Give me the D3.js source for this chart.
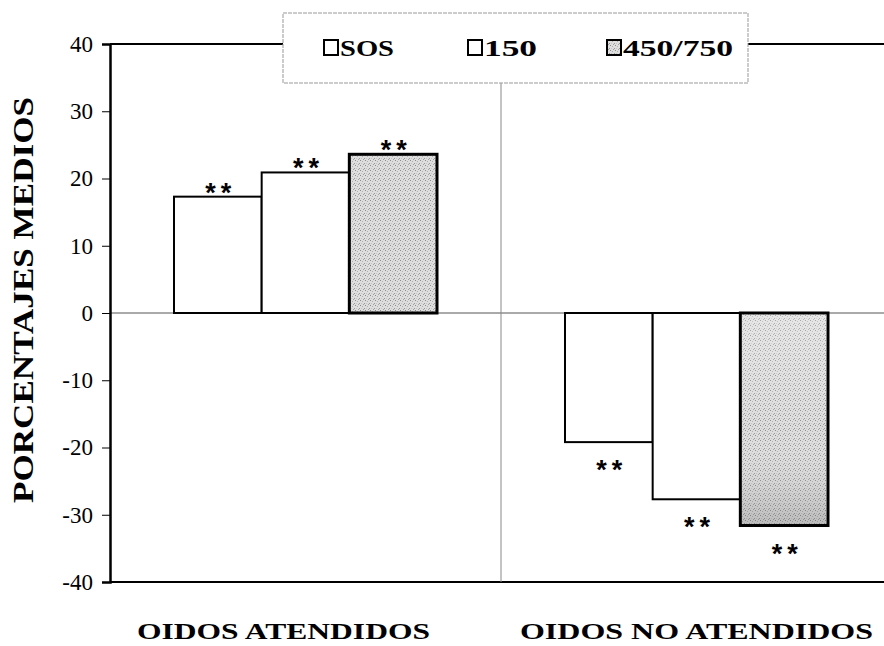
<!DOCTYPE html>
<html><head><meta charset="utf-8">
<script src="https://cdn.jsdelivr.net/npm/d3@7"></script>
<style>body{margin:0;background:#fff} svg text{font-family:"Liberation Serif","Times New Roman",Tinos,"Nimbus Roman","FreeSerif",serif}</style>
</head><body>
<script>
const categories = ["OIDOS ATENDIDOS", "OIDOS NO ATENDIDOS"];
const seriesNames = ["SOS", "150", "450/750"];
const sosValues = [17.3, -19.2];
const v150Values = [20.9, -27.7];
const v450Values = [23.6, -31.6];
const yTicks = [-40, -30, -20, -10, 0, 10, 20, 30, 40];
const starLabel = "**";

(function(){
const W = 884, H = 646;
const svg = d3.select("body").append("svg").attr("width", W).attr("height", H);
const defs = svg.append("defs");
const pat = defs.append("pattern").attr("id","stip").attr("width",5).attr("height",5).attr("patternUnits","userSpaceOnUse");
pat.append("rect").attr("width",5).attr("height",5).attr("fill","#dedede");
[[0,0,"#8a8a8a"],[2,1,"#b0b0b0"],[4,3,"#999"],[1,3,"#c4c4c4"],[3,4,"#a0a0a0"]].forEach(d=>
  pat.append("rect").attr("x",d[0]).attr("y",d[1]).attr("width",1).attr("height",1).attr("fill",d[2]));
const grad = defs.append("linearGradient").attr("id","shade").attr("x1",0).attr("x2",0).attr("y1",0).attr("y2",1);
grad.append("stop").attr("offset","0%").attr("stop-color","#fff").attr("stop-opacity",0.25);
grad.append("stop").attr("offset","55%").attr("stop-color","#fff").attr("stop-opacity",0);
grad.append("stop").attr("offset","100%").attr("stop-color","#555").attr("stop-opacity",0.25);

const mLeft = 110, mRight = 884, mTop = 44, mBottom = 582;
const y = d3.scaleLinear().domain([-40, 40]).range([mBottom, mTop]);
const x0 = d3.scaleBand().domain(categories).range([110, 892]).paddingInner(0).paddingOuter(0);
const x1 = d3.scaleBand().domain(seriesNames).range([0, x0.bandwidth()]).paddingInner(0).paddingOuter(0.73);

const serif = '"Liberation Serif","Times New Roman",Tinos,"Nimbus Roman",serif';
const sans = '"Liberation Sans",Arial,sans-serif';
const data = seriesNames.map((s, i) => ({name: s, values: [sosValues, v150Values, v450Values][i]}));
const fills = {"SOS": "#fff", "150": "#fff", "450/750": "url(#stip)"};

svg.append("line").attr("x1", mLeft).attr("x2", mRight).attr("y1", mTop).attr("y2", mTop).attr("stroke", "#000").attr("stroke-width", 2);
svg.append("line").attr("x1", mLeft).attr("x2", mRight).attr("y1", mBottom).attr("y2", mBottom).attr("stroke", "#000").attr("stroke-width", 2);
svg.append("line").attr("x1", mLeft).attr("x2", mRight).attr("y1", y(0)).attr("y2", y(0)).attr("stroke", "#555").attr("stroke-width", 1);
svg.append("line").attr("x1", x0(categories[1])).attr("x2", x0(categories[1])).attr("y1", mTop).attr("y2", mBottom).attr("stroke", "#888").attr("stroke-width", 1);

const ya = svg.append("g").attr("transform", `translate(${mLeft},0)`)
  .call(d3.axisLeft(y).tickValues(yTicks).tickSize(8).tickPadding(9).tickFormat(d => String(d)));
ya.attr("font-family", null);
ya.select(".domain").attr("stroke", "#000").attr("stroke-width", 2.5);
ya.selectAll(".tick line").attr("stroke", "#000").attr("stroke-width", 1);
ya.selectAll(".tick text").style("font-family", serif).attr("font-size", 23).attr("fill", "#000");

const labelDx = [-22, 0];
const labelLen = [293, 353];
categories.forEach((c, ci) => {
  data.forEach(s => {
    const v = s.values[ci];
    const bx = x0(c) + x1(s.name);
    const y0 = y(Math.max(0, v)), y1v = y(Math.min(0, v));
    svg.append("rect").attr("x", bx).attr("y", y0).attr("width", x1.bandwidth()).attr("height", y1v - y0)
      .attr("fill", fills[s.name]).attr("stroke", "#000").attr("stroke-width", s.name === "450/750" ? 3 : 2);
    if (s.name === "450/750" && v < 0) {
      svg.append("rect").attr("x", bx + 1.5).attr("y", y0 + 1.5).attr("width", x1.bandwidth() - 3).attr("height", y1v - y0 - 3)
        .attr("fill", "url(#shade)");
    }
    svg.append("text").attr("x", bx + x1.bandwidth() / 2 + 3)
      .attr("y", v >= 0 ? y(v) + 5 : y(v) + 37)
      .attr("text-anchor", "middle").style("font-family", sans).attr("font-weight", "bold").attr("font-size", 27)
      .attr("letter-spacing", 5).text(starLabel);
  });
  svg.append("text").attr("x", x0(c) + x0.bandwidth() / 2 + labelDx[ci]).attr("y", 639)
    .attr("text-anchor", "middle").style("font-family", serif).attr("font-weight", "bold").attr("font-size", 23)
    .attr("textLength", labelLen[ci]).attr("lengthAdjust", "spacingAndGlyphs")
    .text(c);
});

svg.append("text").attr("transform", `translate(33,300) rotate(-90)`).attr("text-anchor", "middle")
  .style("font-family", serif).attr("font-weight", "bold").attr("font-size", 29)
  .attr("textLength", 406).attr("lengthAdjust", "spacingAndGlyphs").text("PORCENTAJES MEDIOS");

const lg = svg.append("g");
lg.append("rect").attr("x", 283).attr("y", 13).attr("width", 465).attr("height", 70)
  .attr("fill", "#fff").attr("stroke", "#999").attr("stroke-width", 1).attr("stroke-dasharray", "4,1");
const lx = [324, 468, 607];
const tl = [54, 53, 110];
seriesNames.forEach((s, i) => {
  lg.append("rect").attr("x", lx[i]).attr("y", 40).attr("width", 14).attr("height", 15)
    .attr("fill", fills[s]).attr("stroke", "#000").attr("stroke-width", 2);
  lg.append("text").attr("x", lx[i] + 16).attr("y", 56).style("font-family", serif).attr("font-weight", "bold")
    .attr("font-size", 24).attr("textLength", tl[i]).attr("lengthAdjust", "spacingAndGlyphs").text(s);
});
})();
</script>
</body></html>
